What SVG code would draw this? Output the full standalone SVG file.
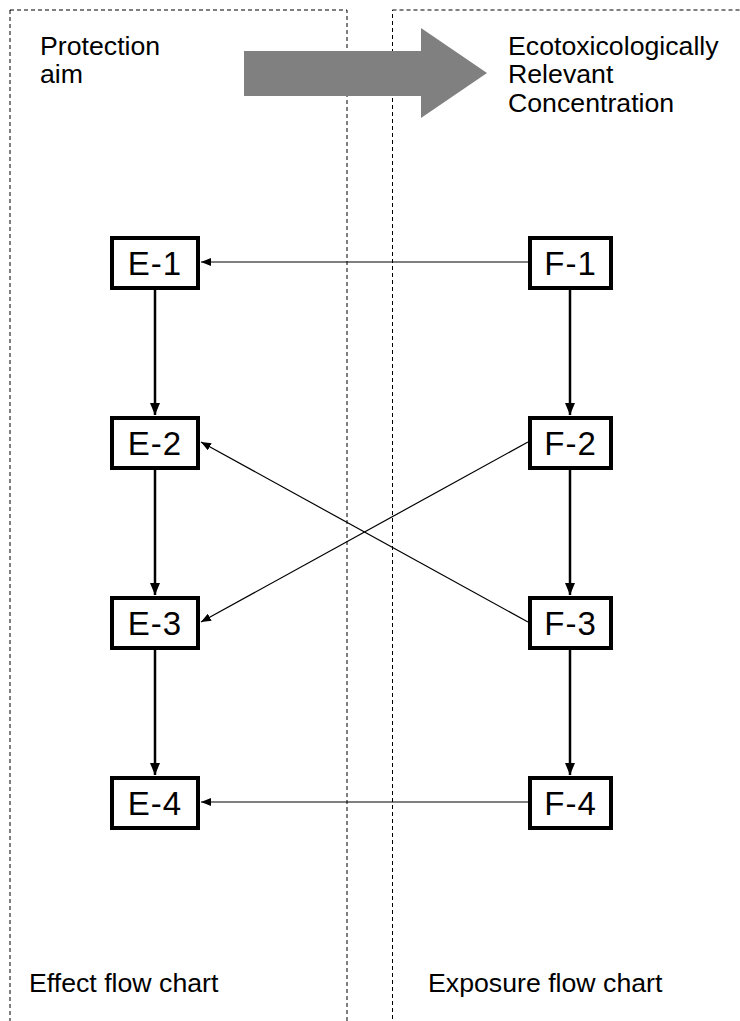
<svg xmlns="http://www.w3.org/2000/svg" width="740" height="1021" viewBox="0 0 740 1021">
<defs>
<marker id="ah" markerWidth="10" markerHeight="8" refX="10" refY="4" orient="auto" markerUnits="userSpaceOnUse">
<path d="M0,0 L10,4 L0,8 Z" fill="#000"/>
</marker>
<marker id="ahb" markerWidth="12" markerHeight="10" refX="12" refY="5" orient="auto" markerUnits="userSpaceOnUse">
<path d="M0,0 L12,5 L0,10 Z" fill="#000"/>
</marker>
<style>
.frame{fill:none;stroke:#000;stroke-width:1;stroke-dasharray:4,3}
.box{fill:#fff;stroke:#000;stroke-width:4}
.lbl{font-family:"Liberation Sans",Arial,sans-serif;font-size:26.7px;fill:#000}
.nt{font-family:"Liberation Sans",Arial,sans-serif;font-size:33px;letter-spacing:1px;fill:#000;text-anchor:middle}
.thin{stroke:#000;stroke-width:1.2;fill:none}
.thick{stroke:#000;stroke-width:2.5;fill:none}
</style>
</defs>
<rect width="740" height="1021" fill="#fff"/>
<g id="frames">
<rect class="frame" x="10" y="10" width="337" height="1030"/>
<rect class="frame" x="392.5" y="10" width="360" height="1030"/>
</g>
<g id="bigarrow">
<polygon points="244,51 421,51 421,28 487,73 421,118 421,96 244,96" fill="#808080"/>
</g>
<g id="labels">
<text class="lbl" x="40" y="55">Protection</text>
<text class="lbl" x="40" y="83">aim</text>
<text class="lbl" x="508" y="55">Ecotoxicologically</text>
<text class="lbl" x="508" y="83">Relevant</text>
<text class="lbl" x="508" y="112">Concentration</text>
<text class="lbl" x="29" y="992">Effect flow chart</text>
<text class="lbl" x="428" y="992">Exposure flow chart</text>
</g>
<g id="connectors">
<line class="thin" x1="528" y1="262" x2="201" y2="262" marker-end="url(#ah)"/>
<line class="thin" x1="528" y1="442" x2="201" y2="622" marker-end="url(#ah)"/>
<line class="thin" x1="528" y1="622" x2="201" y2="442" marker-end="url(#ah)"/>
<line class="thin" x1="528" y1="802" x2="201" y2="802" marker-end="url(#ah)"/>
<line class="thick" x1="155" y1="289" x2="155" y2="415" marker-end="url(#ahb)"/>
<line class="thick" x1="155" y1="469" x2="155" y2="595" marker-end="url(#ahb)"/>
<line class="thick" x1="155" y1="649" x2="155" y2="775" marker-end="url(#ahb)"/>
<line class="thick" x1="570" y1="289" x2="570" y2="415" marker-end="url(#ahb)"/>
<line class="thick" x1="570" y1="469" x2="570" y2="595" marker-end="url(#ahb)"/>
<line class="thick" x1="570" y1="649" x2="570" y2="775" marker-end="url(#ahb)"/>
</g>
<g id="E-1"><rect class="box" x="112" y="238" width="86" height="50"/><text class="nt" x="155" y="275">E-1</text></g>
<g id="E-2"><rect class="box" x="112" y="418" width="86" height="50"/><text class="nt" x="155" y="455">E-2</text></g>
<g id="E-3"><rect class="box" x="112" y="598" width="86" height="50"/><text class="nt" x="155" y="635">E-3</text></g>
<g id="E-4"><rect class="box" x="112" y="778" width="86" height="50"/><text class="nt" x="155" y="815">E-4</text></g>
<g id="F-1"><rect class="box" x="530" y="238" width="81" height="50"/><text class="nt" x="570.5" y="275">F-1</text></g>
<g id="F-2"><rect class="box" x="530" y="418" width="81" height="50"/><text class="nt" x="570.5" y="455">F-2</text></g>
<g id="F-3"><rect class="box" x="530" y="598" width="81" height="50"/><text class="nt" x="570.5" y="635">F-3</text></g>
<g id="F-4"><rect class="box" x="530" y="778" width="81" height="50"/><text class="nt" x="570.5" y="815">F-4</text></g>
</svg>
